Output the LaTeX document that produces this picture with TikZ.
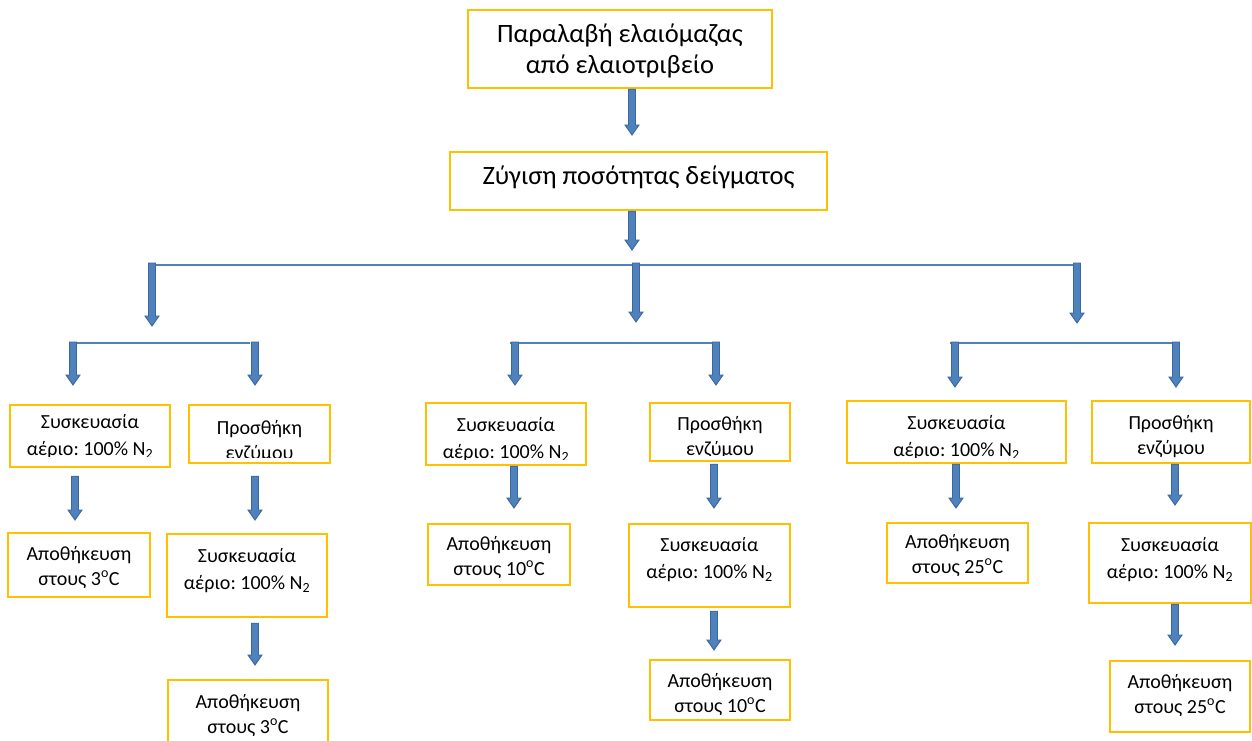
\documentclass[tikz,border=0pt]{standalone}
\usepackage{fontspec}
\setmainfont{Carlito}
\usetikzlibrary{calc}
\definecolor{boxline}{HTML}{FFC000}
\definecolor{flowblue}{HTML}{4F81BD}
\definecolor{flowdark}{HTML}{3A679C}
\frenchspacing

\tikzset{
  box/.style={draw=boxline, line width=2.4pt, inner sep=0pt},
  smalltext/.style={align=center, inner sep=0pt, font=\fontsize{20}{25}\selectfont},
  bigtext/.style={align=center, inner sep=0pt, font=\fontsize{26.5}{31.5}\selectfont},
  branch/.style={draw=flowblue, line width=1.6pt},
  arrowbody/.style={fill=flowblue, draw=flowdark, line width=0.9pt, line join=miter},
}

% block arrow pointing down from #1 to the tip #2
\newcommand\flowarrow[2]{%
  \path[arrowbody] let \p1=(#1), \p2=(#2) in
    (\x1-3.5pt,\y1) -- (\x1+3.5pt,\y1) -- (\x1+3.5pt,\y2+10pt) -- (\x1+7pt,\y2+10pt)
    -- (\x1,\y2) -- (\x1-7pt,\y2+10pt) -- (\x1-3.5pt,\y2+10pt) -- cycle;}

% distance between the lower frame edge and the end of the visible text area
\def\clipinset{6}

% framed box: name, x1, y1, x2, y2, text style, strut, first baseline offset, text
% the text is clipped to the inner area of the frame
\newcommand\flowbox[9]{%
  \begin{scope}
    \clip (#2,#3) rectangle (#4,#5-\clipinset);
    \node[#6, anchor=north] (#1-text) at ({(#2+#4)/2},{#3+#8-#7}) {\rule{0pt}{#7pt}#9};
  \end{scope}
  \node[box, minimum width={(#4-#2)*1pt}, minimum height={(#5-#3)*1pt}]
    (#1) at ({(#2+#4)/2},{(#3+#5)/2}) {};}
\newcommand\smallbox[7]{\flowbox{#1}{#2}{#3}{#4}{#5}{smalltext}{16}{#6}{#7}}
\newcommand\bigbox[7]{\flowbox{#1}{#2}{#3}{#4}{#5}{bigtext}{21}{#6}{#7}}

\newcommand\packN{Συσκευασία\\[2pt]αέριο: 100\% N\textsubscript{2}}
\newcommand\enzyme{Προσθήκη\\ενζύμου}

\begin{document}
\begin{tikzpicture}[x=1pt, y=-1pt]
\useasboundingbox (0,0) rectangle (1252,740);

% main steps
\bigbox{recv}{468}{10}{772}{88}{32}{Παραλαβή ελαιόμαζας\\από ελαιοτριβείο}
\bigbox{weigh}{450}{152}{827}{210}{32}{Ζύγιση ποσότητας δείγματος}

% 3 C branch
{\def\clipinset{11}\smallbox{pa}{10}{405}{170}{467}{23}{\packN}}
\smallbox{ea}{189}{405}{330}{463}{29}{\enzyme}
\smallbox{sa}{8}{533}{150}{597}{27}{Αποθήκευση\\στους 3\textsuperscript{o}C}
\smallbox{pea}{167}{534}{327}{617}{28}{\packN}
\smallbox{sea}{168}{680}{328}{752}{28}{Αποθήκευση\\στους 3\textsuperscript{o}C}

% 10 C branch
\smallbox{pb}{426}{403}{586}{465}{28}{\packN}
\smallbox{eb}{650}{403}{790}{461}{27}{\enzyme}
\smallbox{sb}{428}{524}{570}{585}{26}{Αποθήκευση\\στους 10\textsuperscript{o}C}
\smallbox{peb}{629}{524}{790}{607}{27}{\packN}
\smallbox{seb}{650}{660}{790}{720}{27}{Αποθήκευση\\στους 10\textsuperscript{o}C}

% 25 C branch
\smallbox{pc}{847}{401}{1066}{463}{28}{\packN}
\smallbox{ec}{1092}{401}{1250}{463}{28}{\enzyme}
\smallbox{sc}{887}{523}{1028}{583}{25}{Αποθήκευση\\στους 25\textsuperscript{o}C}
\smallbox{pec}{1089}{523}{1251}{603}{28}{\packN}
\smallbox{sec}{1110}{661}{1250}{732}{27}{Αποθήκευση\\στους 25\textsuperscript{o}C}

% branching lines
\coordinate (h0l) at (150,265);  \coordinate (h0r) at (1075,265);
\coordinate (hal) at (70,343);   \coordinate (har) at (250,343);
\coordinate (hbl) at (510,343);  \coordinate (hbr) at (715,343);
\coordinate (hcl) at (950,343);  \coordinate (hcr) at (1175,343);
\draw[branch] (h0l) -- (h0r);
\draw[branch] (hal) -- (har);
\draw[branch] (hbl) -- (hbr);
\draw[branch] (hcl) -- (hcr);

% arrow tips
\coordinate (t1) at (632,135);
\coordinate (t2) at (632,250);
\coordinate (ga) at (152,326);
\coordinate (gb) at (636,322);
\coordinate (gc) at (1077,323);
\coordinate (ka1) at (73,385);
\coordinate (ka2) at (255,385);
\coordinate (kb1) at (515,385);
\coordinate (kb2) at (716,385);
\coordinate (kc1) at (955,387);
\coordinate (kc2) at (1176,387);
\coordinate (la1) at (75,520);
\coordinate (la2) at (255,520);
\coordinate (lb) at (255,665);
\coordinate (mb1) at (514,508);
\coordinate (mb2) at (714,508);
\coordinate (mc) at (714,650);
\coordinate (rb1) at (956,508);
\coordinate (rb2) at (1175,505);
\coordinate (rc) at (1175,645);

\flowarrow{t1 |- recv.south}{t1}
\flowarrow{t2 |- weigh.south}{t2}
\flowarrow{$(ga |- h0l)+(0,-2)$}{ga}
\flowarrow{$(gb |- h0l)+(0,-2)$}{gb}
\flowarrow{$(gc |- h0l)+(0,-2)$}{gc}
\flowarrow{$(ka1 |- hal)+(0,-1)$}{ka1}
\flowarrow{$(ka2 |- hal)+(0,-1)$}{ka2}
\flowarrow{$(kb1 |- hbl)+(0,-1)$}{kb1}
\flowarrow{$(kb2 |- hbl)+(0,-1)$}{kb2}
\flowarrow{$(kc1 |- hcl)+(0,-1)$}{kc1}
\flowarrow{$(kc2 |- hcl)+(0,-1)$}{kc2}
\flowarrow{$(la1 |- pa.south)+(0,8)$}{la1}
\flowarrow{$(la2 |- ea.south)+(0,12)$}{la2}
\flowarrow{$(lb |- pea.south)+(0,5)$}{lb}
\flowarrow{mb1 |- pb.south}{mb1}
\flowarrow{$(mb2 |- eb.south)+(0,2)$}{mb2}
\flowarrow{$(mc |- peb.south)+(0,3)$}{mc}
\flowarrow{rb1 |- pc.south}{rb1}
\flowarrow{rb2 |- ec.south}{rb2}
\flowarrow{rc |- pec.south}{rc}
\end{tikzpicture}
\end{document}
